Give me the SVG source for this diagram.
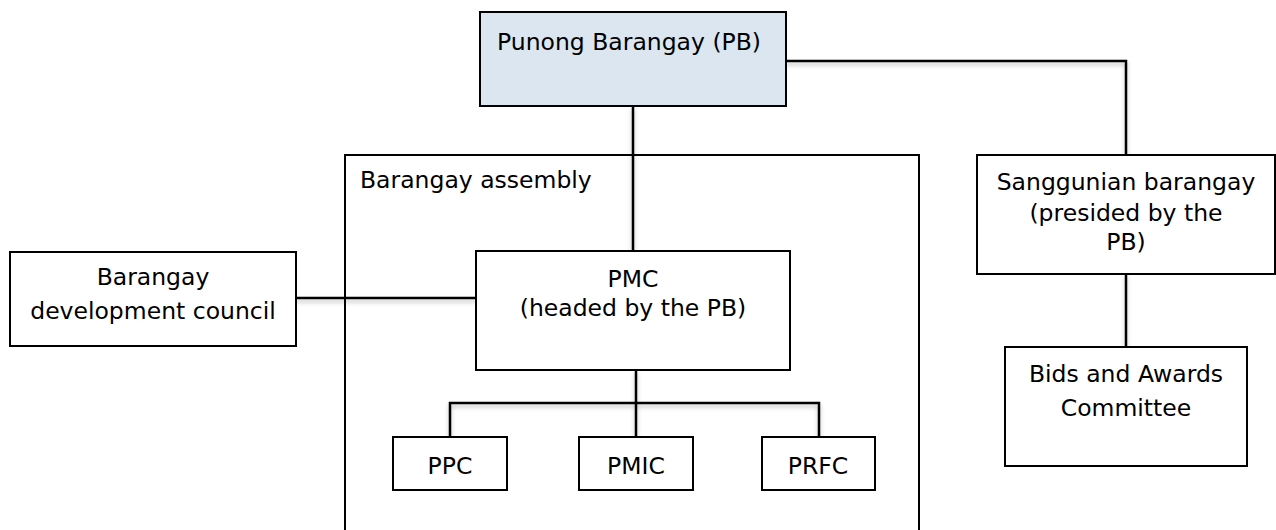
<svg xmlns="http://www.w3.org/2000/svg" width="1276" height="530" viewBox="0 0 1276 530">
<defs>
<style>
.box{fill:#ffffff;stroke:#000;stroke-width:2}
.pb{fill:#dce6f1;stroke:#000;stroke-width:2}
.t{font-family:"DejaVu Sans",Verdana,sans-serif;font-size:23.5px;fill:#000}
.c{text-anchor:middle}
.ln{fill:none;stroke:#000;stroke-width:2.5}
</style>
<filter id="sh" x="-10%" y="-10%" width="120%" height="140%">
<feDropShadow dx="0" dy="3" stdDeviation="2" flood-color="#000" flood-opacity="0.25"/>
</filter>
</defs>
<rect width="1276" height="530" fill="#fff"/>
<g id="assembly">
<rect class="box" x="345" y="155" width="574" height="400"/>
<text class="t" x="360" y="188">Barangay assembly</text>
</g>
<g id="connectors" filter="url(#sh)">
<polyline class="ln" points="786,61 1126,61 1126,155"/>
<line class="ln" x1="633" y1="106" x2="633" y2="251"/>
<line class="ln" x1="296" y1="298" x2="476" y2="298"/>
<line class="ln" x1="636" y1="370" x2="636" y2="437"/>
<polyline class="ln" points="450,437 450,403 819,403 819,437"/>
<line class="ln" x1="1126" y1="274" x2="1126" y2="347"/>
</g>
<g id="pb">
<rect class="pb" x="480" y="12" width="306" height="94"/>
<text class="t" x="497" y="50">Punong Barangay (PB)</text>
</g>
<g id="pmc">
<rect class="box" x="476" y="251" width="314" height="119"/>
<text class="t c" x="633" y="287">PMC</text>
<text class="t c" x="633" y="316">(headed by the PB)</text>
</g>
<g id="bdc">
<rect class="box" x="10" y="252" width="286" height="94"/>
<text class="t c" x="153" y="285">Barangay</text>
<text class="t c" x="153" y="319">development council</text>
</g>
<g id="sanggunian">
<rect class="box" x="977" y="155" width="298" height="119"/>
<text class="t c" x="1126" y="190">Sanggunian barangay</text>
<text class="t c" x="1126" y="221">(presided by the</text>
<text class="t c" x="1126" y="250">PB)</text>
</g>
<g id="bids">
<rect class="box" x="1005" y="347" width="242" height="119"/>
<text class="t c" x="1126" y="382">Bids and Awards</text>
<text class="t c" x="1126" y="416">Committee</text>
</g>
<g id="ppc">
<rect class="box" x="393" y="437" width="114" height="53"/>
<text class="t c" x="450" y="474">PPC</text>
</g>
<g id="pmic">
<rect class="box" x="579" y="437" width="114" height="53"/>
<text class="t c" x="636" y="474">PMIC</text>
</g>
<g id="prfc">
<rect class="box" x="762" y="437" width="113" height="53"/>
<text class="t c" x="818" y="474">PRFC</text>
</g>
</svg>
